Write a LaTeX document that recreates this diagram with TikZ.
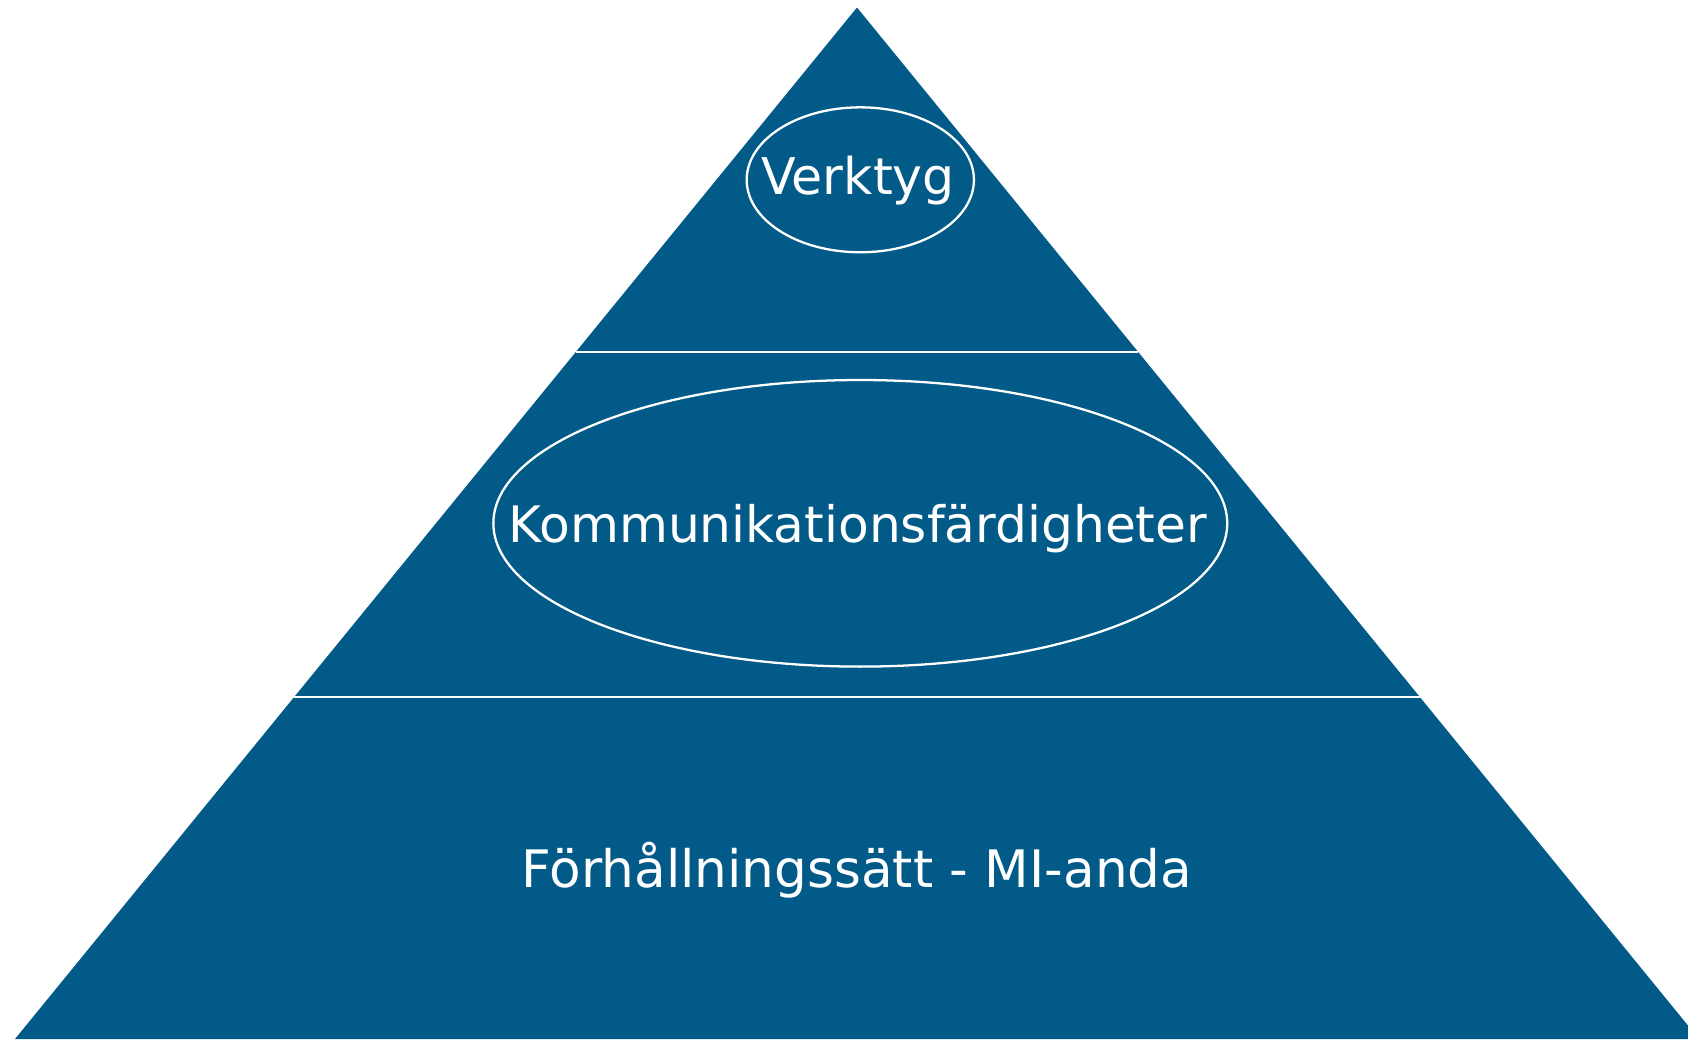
\documentclass[tikz,border=0pt]{standalone}
\usepackage{fontspec}
\setmainfont{DejaVu Sans}
\usetikzlibrary{calc,shapes.geometric}
\definecolor{pyrblue}{RGB}{2,90,137}
\tikzset{
  sep/.style={draw=white, line width=1.3pt},
  ring/.style={draw=white, line width=1.3pt, ellipse, inner sep=0pt},
  label/.style={text=white, anchor=base, inner sep=0pt},
}
\begin{document}
\begin{tikzpicture}[x=0.02cm, y=-0.02cm]
\useasboundingbox (0,0) rectangle (1688,1039);
\clip (0,0) rectangle (1688,1039);
\coordinate (apex) at (857,7.5);
\coordinate (bl) at (15,1039);
\coordinate (br) at (1699,1039);
\fill[pyrblue] (apex) -- (bl) -- (br) -- cycle;
% separators
\coordinate (l1) at ($(apex)!0.3337!(bl)$);
\coordinate (r1) at ($(apex)!0.3337!(br)$);
\coordinate (l2) at ($(apex)!0.6682!(bl)$);
\coordinate (r2) at ($(apex)!0.6682!(br)$);
\draw[sep] (l1) -- (r1);
\draw[sep] (l2) -- (r2);
% ellipses
\node[ring, minimum width=4.546cm, minimum height=2.9cm] (e1) at (860.3,179.8) {};
\node[ring, minimum width=14.68cm, minimum height=5.733cm] (e2) at (860.3,523.3) {};
% labels
\node[label, font=\fontsize{28.8pt}{34pt}\selectfont] (t1) at (858,194) {Verktyg};
\node[label, font=\fontsize{28.6pt}{34pt}\selectfont] (t2) at (858,542) {Kommunikationsfärdigheter};
\node[label, font=\fontsize{29.4pt}{35pt}\selectfont] (t3) at (857,887) {Förhållningssätt - MI-anda};
\end{tikzpicture}
\end{document}
